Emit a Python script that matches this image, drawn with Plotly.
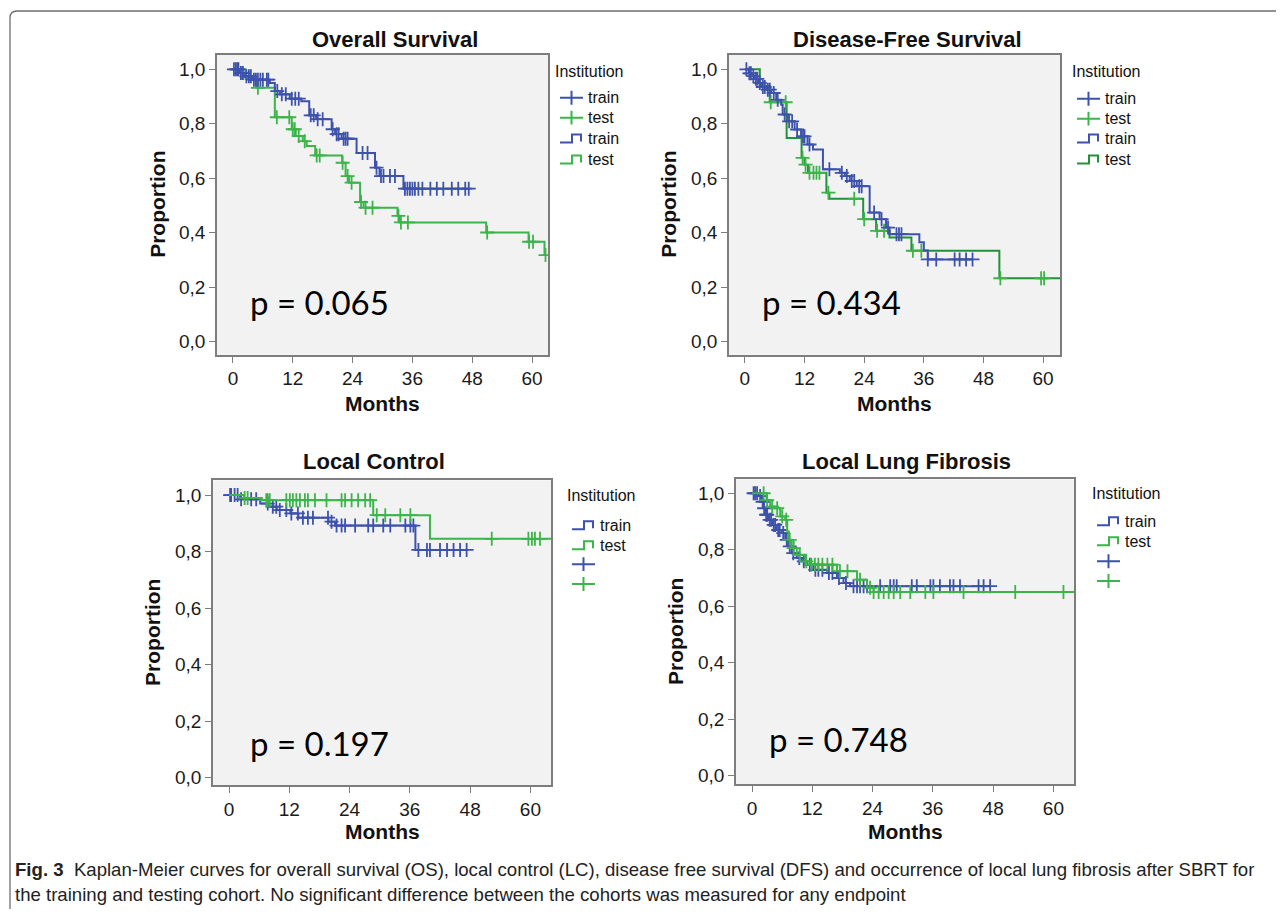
import numpy as np
import plotly.graph_objects as go

# page is 1284x917; the html body has an 8px margin, so the figure is placed at (8, 8)
OFF = 8
W, H = 1268, 901

BLUE = "#3d52ab"
GREEN = "#3bb44a"
DGREEN = "#21913a"
AXC = "#7d7d7d"
FONT = "Liberation Sans, Arial, sans-serif"

# ---------------- data (months, survival proportion) ----------------
os_train_t = [1.3, 2.3, 4.0, 7.4, 8.4, 9.4, 11.4, 13.7, 15.3, 16.7, 19.8, 20.5, 21.8, 24.8, 28.5, 29.4, 34.2]
os_train_s = [0.986, 0.974, 0.962, 0.95, 0.92, 0.908, 0.892, 0.883, 0.831, 0.817, 0.78, 0.762, 0.745, 0.693, 0.639, 0.608, 0.562]
os_train_end = 47.4
os_train_cens = [0.2, 0.6, 0.9, 1.1, 1.6, 2.0, 2.7, 3.2, 3.6, 4.2, 4.6, 5.0, 5.5, 6.0, 6.8, 7.1, 8.9, 9.8, 10.6,
                 11.8, 12.5, 13.2, 15.6, 16.2, 17.0, 18.0, 20.0, 20.8, 21.2, 22.2, 22.6, 23.0, 26.0, 27.0, 28.8,
                 29.7, 30.2, 31.5, 32.5, 34.5, 35.0, 35.5, 36.0, 36.5, 37.2, 38.0, 39.6, 40.9, 42.2, 43.9, 45.2,
                 46.6, 47.3]

os_test_t = [2.5, 4.8, 8.4, 11.8, 12.6, 14.0, 14.8, 16.5, 21.9, 22.6, 23.3, 25.5, 26.2, 33.0, 33.4, 50.8, 59.3, 62.5]
os_test_s = [0.965, 0.932, 0.824, 0.78, 0.755, 0.736, 0.718, 0.684, 0.657, 0.608, 0.584, 0.513, 0.492, 0.462,
             0.438, 0.401, 0.367, 0.318]
os_test_end = 62.7
os_test_cens = [5.0, 8.8, 11.3, 12.0, 12.4, 13.2, 14.4, 16.8, 17.4, 22.0, 23.0, 23.8, 25.7, 26.6, 28.0, 33.2,
                33.7, 35.1, 51.0, 59.4, 60.2, 62.7]

dfs_train_t = [0.8, 1.5, 2.0, 2.7, 3.3, 4.3, 5.3, 6.3, 7.3, 7.6, 8.6, 10.0, 11.3, 12.6, 13.7, 15.7, 19.1, 20.1,
               21.1, 22.5, 25.1, 27.1, 28.4, 29.1, 35.1, 36.0, 36.8]
dfs_train_s = [0.985, 0.975, 0.965, 0.95, 0.935, 0.925, 0.913, 0.888, 0.87, 0.834, 0.809, 0.779, 0.754, 0.724,
               0.706, 0.633, 0.62, 0.608, 0.59, 0.571, 0.474, 0.45, 0.419, 0.395, 0.365, 0.335, 0.302]
dfs_train_end = 45.8
dfs_train_cens = [0.3, 0.9, 1.2, 1.7, 2.2, 2.5, 3.0, 3.6, 4.0, 4.6, 5.0, 5.8, 6.6, 8.0, 8.9, 9.5, 10.5, 11.7,
                  12.0, 13.0, 17.0, 19.5, 20.5, 21.5, 22.0, 23.0, 23.5, 26.0, 27.5, 28.8, 30.5, 31.0, 31.5,
                  36.8, 38.5, 42.2, 43.2, 44.5, 45.8]

dfs_test_t = [3.0, 5.0, 8.4, 11.4, 12.0, 12.7, 16.4, 17.0, 23.8, 26.4, 29.1, 33.5, 51.2]
dfs_test_s = [0.94, 0.879, 0.748, 0.675, 0.65, 0.62, 0.547, 0.525, 0.45, 0.407, 0.383, 0.334, 0.233]
dfs_test_end = 63.4
dfs_test_cens = [5.2, 8.2, 11.6, 12.2, 13.0, 13.8, 14.4, 15.0, 16.8, 22.0, 24.0, 26.6, 28.0, 33.8, 35.5,
                 51.4, 59.6, 60.2]

lc_train_t = [2.2, 6.2, 7.8, 9.5, 12.2, 13.8, 19.8, 21.1, 37.1]
lc_train_s = [0.985, 0.97, 0.959, 0.947, 0.935, 0.92, 0.906, 0.892, 0.806]
lc_train_end = 47.6
lc_train_cens = [0.2, 0.4, 1.1, 1.7, 2.4, 4.4, 5.4, 7.7, 8.7, 9.4, 10.1, 11.4, 12.4, 13.7, 14.7, 15.7, 16.7,
                 19.7, 20.4, 21.4, 22.4, 23.1, 25.1, 27.7, 28.7, 30.7, 32.1, 35.1, 36.1, 36.7, 37.7, 39.4,
                 40.0, 42.0, 43.4, 44.7, 46.0, 47.3]

lc_test_t = [3.0, 6.5, 28.7, 40.0]
lc_test_s = [0.99, 0.982, 0.929, 0.845]
lc_test_end = 64.5
lc_test_cens = [3.1, 3.7, 7.4, 7.7, 8.1, 11.4, 12.1, 12.7, 13.4, 14.1, 15.1, 15.7, 17.1, 19.4, 22.4, 23.1,
                24.4, 25.7, 27.1, 28.1, 29.4, 31.1, 34.1, 36.1, 52.3, 59.6, 60.3, 60.9, 61.9]

llf_train_t = [1.3, 1.9, 2.3, 2.6, 3.3, 4.0, 4.9, 5.9, 6.6, 7.2, 7.9, 8.9, 9.9, 10.9, 12.2, 14.9, 16.9, 18.2, 19.5]
llf_train_s = [0.99, 0.97, 0.947, 0.924, 0.906, 0.888, 0.87, 0.859, 0.835, 0.812, 0.788, 0.771, 0.759, 0.747,
               0.729, 0.718, 0.70, 0.682, 0.671]
llf_train_end = 47.4
llf_train_cens = [0.3, 0.6, 1.0, 1.6, 2.1, 2.4, 2.8, 3.0, 3.5, 3.8, 4.3, 4.6, 5.2, 5.5, 6.2, 6.9, 7.5, 8.2,
                  9.4, 10.3, 11.5, 12.6, 13.2, 14.0, 15.3, 16.0, 17.3, 18.7, 20.2, 20.9, 21.5, 22.2, 22.9,
                  25.5, 27.5, 28.2, 28.8, 31.8, 32.8, 35.5, 36.1, 37.4, 39.4, 40.1, 41.4, 45.1, 46.1, 47.4]

llf_test_t = [2.9, 3.6, 4.6, 5.6, 6.6, 7.0, 7.3, 7.9, 8.9, 10.6, 11.6, 16.9, 20.9, 22.9, 24.2]
llf_test_s = [0.976, 0.953, 0.947, 0.918, 0.906, 0.865, 0.835, 0.806, 0.782, 0.759, 0.747, 0.724, 0.694, 0.665, 0.65]
llf_test_end = 64.5
llf_test_cens = [2.3, 3.0, 4.0, 5.0, 6.0, 6.8, 7.5, 8.3, 9.5, 10.8, 11.8, 12.5, 13.2, 14.0, 15.0, 16.0, 17.5,
                 19.0, 21.5, 23.5, 24.2, 25.2, 26.2, 27.2, 28.2, 29.5, 31.5, 34.5, 36.1, 42.1, 52.4, 62.0]

titles = ["Overall Survival", "Disease-Free Survival", "Local Control", "Local Lung Fibrosis"]
pvalues = ["p = 0.065", "p = 0.434", "p = 0.197", "p = 0.748"]
x_ticks = [0, 12, 24, 36, 48, 60]
y_ticks = [0.0, 0.2, 0.4, 0.6, 0.8, 1.0]
y_ticklabels = ["0,0", "0,2", "0,4", "0,6", "0,8", "1,0"]
legend_title = "Institution"
caption_bold = "Fig. 3"
caption_line1 = ("Kaplan-Meier curves for overall survival (OS), local control (LC), disease free survival "
                 "(DFS) and occurrence of local lung fibrosis after SBRT for")
caption_line2 = ("the training and testing cohort. No significant difference between the cohorts was "
                 "measured for any endpoint")

# ---------------- layout geometry (page pixels) ----------------
panels = [
    dict(x0=217, x1=548, y0=55, y1=356, xr=[-3.2, 63.2], yr=[-0.048, 1.053], title_x=395, title_y=40,
         p_x=248, p_y=303, prop_x=158, months_y=405, leg_x=553, leg_y=72, rows=[98, 118, 139, 160],
         train_on_top=True),
    dict(x0=729, x1=1060, y0=55, y1=356, xr=[-3.2, 63.4], yr=[-0.048, 1.053], title_x=907, title_y=40,
         p_x=760, p_y=303, prop_x=669, months_y=405, leg_x=1070, leg_y=72, rows=[99, 119, 139, 160],
         train_on_top=True),
    dict(x0=213, x1=551, y0=482, y1=788, xr=[-3.2, 64.1], yr=[-0.028, 1.052], title_x=374, title_y=463,
         p_x=248, p_y=745, prop_x=153, months_y=834, leg_x=565, leg_y=497, rows=[527, 547, 566, 586],
         train_on_top=False),
    dict(x0=736, x1=1074, y0=481, y1=787, xr=[-3.2, 64.1], yr=[-0.031, 1.049], title_x=906, title_y=463,
         p_x=767, p_y=741, prop_x=676, months_y=834, leg_x=1090, leg_y=495, rows=[523, 543, 563, 583],
         train_on_top=False),
]

curves = [
    [(os_train_t, os_train_s, os_train_end, os_train_cens, BLUE, BLUE),
     (os_test_t, os_test_s, os_test_end, os_test_cens, GREEN, GREEN)],
    [(dfs_train_t, dfs_train_s, dfs_train_end, dfs_train_cens, BLUE, BLUE),
     (dfs_test_t, dfs_test_s, dfs_test_end, dfs_test_cens, DGREEN, GREEN)],
    [(lc_train_t, lc_train_s, lc_train_end, lc_train_cens, BLUE, BLUE),
     (lc_test_t, lc_test_s, lc_test_end, lc_test_cens, GREEN, GREEN)],
    [(llf_train_t, llf_train_s, llf_train_end, llf_train_cens, BLUE, BLUE),
     (llf_test_t, llf_test_s, llf_test_end, llf_test_cens, GREEN, GREEN)],
]


def px(x):
    return (x - OFF) / W


def py(y):
    return 1 - (y - OFF) / H


def step_value(t, s, c):
    idx = np.searchsorted(np.asarray(t), c, side="right")
    return 1.0 if idx == 0 else s[idx - 1]


fig = go.Figure()
layout = dict(width=W, height=H, margin=dict(l=0, r=0, t=0, b=0), paper_bgcolor="white",
              plot_bgcolor="#f2f2f2", showlegend=False)
annotations = []
shapes = []
TICKFONT = dict(family=FONT, size=19, color="#1a1a1a")

for i, (pn, crv) in enumerate(zip(panels, curves)):
    n = "" if i == 0 else str(i + 1)
    xa, ya = "x" + n, "y" + n
    layout["xaxis" + n] = dict(domain=[px(pn["x0"]), px(pn["x1"])], range=pn["xr"], anchor=ya,
                               tickvals=x_ticks, ticks="outside", ticklen=6, tickcolor=AXC, tickwidth=1.3,
                               showline=True, mirror=True, linecolor=AXC, linewidth=1.5, showgrid=False,
                               zeroline=False, tickfont=TICKFONT)
    layout["yaxis" + n] = dict(domain=[py(pn["y1"]), py(pn["y0"])], range=pn["yr"], anchor=xa,
                               tickvals=y_ticks, ticktext=y_ticklabels, ticks="outside", ticklen=6,
                               tickcolor=AXC, tickwidth=1.3, showline=True, mirror=True, linecolor=AXC,
                               linewidth=1.5, showgrid=False, zeroline=False, tickfont=TICKFONT)
    order = list(reversed(crv)) if pn["train_on_top"] else crv
    for (t, s, end, cens, lcol, mcol) in order:
        fig.add_trace(go.Scatter(x=[0] + list(t) + [end], y=[1.0] + list(s) + [s[-1]], mode="lines",
                                 line=dict(color=lcol, width=2, shape="hv"), xaxis=xa, yaxis=ya,
                                 hoverinfo="skip"))
        fig.add_trace(go.Scatter(x=cens, y=[step_value(t, s, c) for c in cens], mode="markers",
                                 marker=dict(symbol="cross-thin", size=10, line=dict(color=mcol, width=1.8)),
                                 xaxis=xa, yaxis=ya, hoverinfo="skip"))
    # title
    annotations.append(dict(x=px(pn["title_x"]), y=py(pn["title_y"]), xref="paper", yref="paper",
                            text="<b>%s</b>" % titles[i], showarrow=False, xanchor="center", yanchor="middle",
                            font=dict(family=FONT, size=22, color="#111")))
    # axis titles
    annotations.append(dict(x=px(pn["prop_x"]), y=py((pn["y0"] + pn["y1"]) / 2), xref="paper", yref="paper",
                            text="<b>Proportion</b>", showarrow=False, textangle=-90, xanchor="center",
                            yanchor="middle", font=dict(family=FONT, size=21, color="#111")))
    annotations.append(dict(x=px((pn["x0"] + pn["x1"]) / 2), y=py(pn["months_y"]), xref="paper", yref="paper",
                            text="<b>Months</b>", showarrow=False, xanchor="center", yanchor="middle",
                            font=dict(family=FONT, size=21, color="#111")))
    # p-value
    annotations.append(dict(x=px(pn["p_x"]), y=py(pn["p_y"]), xref="paper", yref="paper", text=pvalues[i],
                            showarrow=False, xanchor="left", yanchor="middle",
                            font=dict(family="Lato, Carlito, sans-serif", size=33, color="#000")))
    # legend
    annotations.append(dict(x=px(pn["leg_x"]), y=py(pn["leg_y"]), xref="paper", yref="paper", text=legend_title,
                            showarrow=False, xanchor="left", yanchor="middle",
                            font=dict(family=FONT, size=16, color="#111")))
    if i < 2:
        items = [("cross", BLUE, "train"), ("cross", GREEN, "test"), ("step", BLUE, "train"),
                 ("step", DGREEN if i == 1 else GREEN, "test")]
    else:
        items = [("step", BLUE, "train"), ("step", GREEN, "test"), ("cross", BLUE, ""), ("cross", GREEN, "")]
    ix0 = pn["leg_x"] + 7
    for (kind, col, label), ry in zip(items, pn["rows"]):
        if kind == "cross":
            path = "M %f %f L %f %f M %f %f L %f %f" % (
                px(ix0), py(ry), px(ix0 + 23), py(ry), px(ix0 + 11.5), py(ry - 7), px(ix0 + 11.5), py(ry + 7))
        else:
            path = "M %f %f L %f %f L %f %f L %f %f L %f %f" % (
                px(ix0), py(ry + 4), px(ix0 + 12), py(ry + 4), px(ix0 + 12), py(ry - 4), px(ix0 + 21),
                py(ry - 4), px(ix0 + 21), py(ry + 3))
        shapes.append(dict(type="path", xref="paper", yref="paper", path=path,
                           line=dict(color=col, width=2)))
        if label:
            annotations.append(dict(x=px(ix0 + 26), y=py(ry), xref="paper", yref="paper", text=label,
                                    showarrow=False, xanchor="left", yanchor="middle",
                                    font=dict(family=FONT, size=16, color="#111")))

# frame (top + left lines with rounded corner)
shapes.append(dict(type="path", xref="paper", yref="paper",
                   path="M %f %f L %f %f Q %f %f %f %f L %f %f" % (
                       px(10), py(920), px(10), py(18), px(10), py(11), px(17), py(11), px(1290), py(11)),
                   line=dict(color="#6e6e6e", width=1.3)))

# caption
CAPFONT = dict(family=FONT, size=18.6, color="#222")
annotations.append(dict(x=px(13), y=py(872), xref="paper", yref="paper",
                        text="<b>%s</b>  %s" % (caption_bold, caption_line1), showarrow=False,
                        xanchor="left", yanchor="middle", font=CAPFONT))
annotations.append(dict(x=px(13), y=py(897), xref="paper", yref="paper", text=caption_line2,
                        showarrow=False, xanchor="left", yanchor="middle", font=CAPFONT))

layout["annotations"] = annotations
layout["shapes"] = shapes
fig.update_layout(**layout)
fig.write_html("out.html")
